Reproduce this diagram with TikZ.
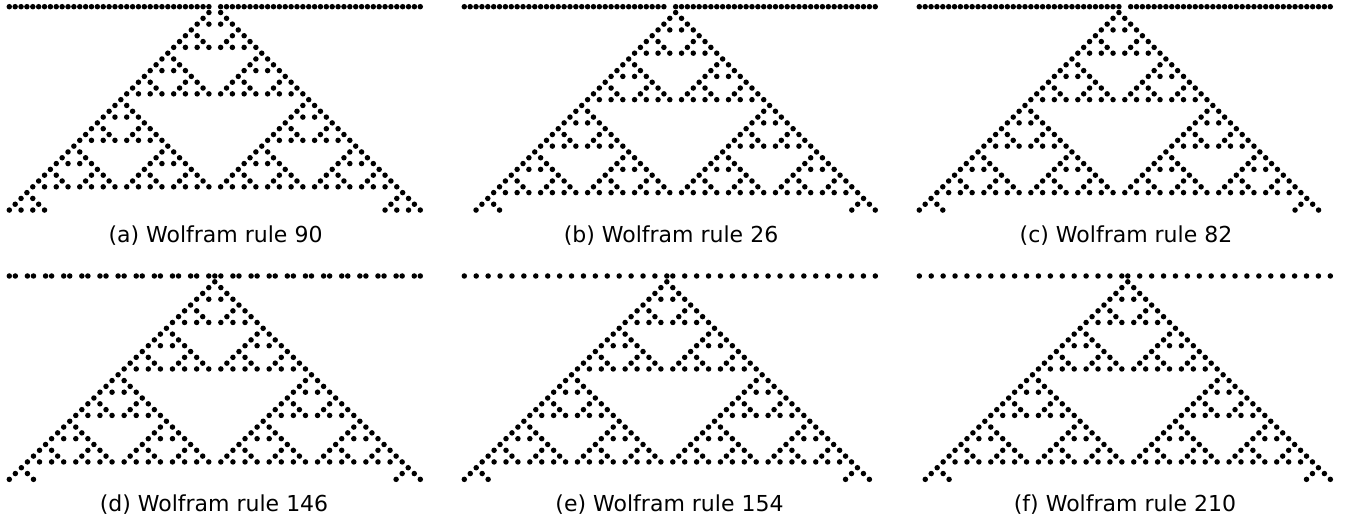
\documentclass[tikz,border=0pt]{standalone}
\usepackage{fontspec}
\setmainfont{DejaVu Sans}
\makeatletter
\newcount\CA@i \newcount\CA@t \newcount\CA@n \newcount\CA@k \newcount\CA@b \newcount\CA@p
\def\CAN{71}
\def\CAT{36}
\def\CA@setinit#1{\CA@i=0 \CA@initloop#1\relax}
\def\CA@initloop#1{%
  \ifx#1\relax\else
    \expandafter\xdef\csname CA@0@\the\CA@i\endcsname{#1}%
    \advance\CA@i by 1
    \expandafter\CA@initloop
  \fi}
\def\CA@rowloop{%
  \ifnum\CA@i<\CAN\relax
    \CA@n=\CA@i \advance\CA@n by -1
    \CA@k=\csname CA@\the\CA@p @\the\CA@n\endcsname\relax
    \multiply\CA@k by 2
    \advance\CA@k by \csname CA@\the\CA@p @\the\CA@i\endcsname\relax
    \multiply\CA@k by 2
    \CA@n=\CA@i \advance\CA@n by 1
    \advance\CA@k by \csname CA@\the\CA@p @\the\CA@n\endcsname\relax
    \CA@b=\CA@rule\relax
    \CA@n=\ifcase\CA@k 1\or 2\or 4\or 8\or 16\or 32\or 64\or 128\fi\relax
    \divide\CA@b by \CA@n
    \ifodd\CA@b
      \expandafter\xdef\csname CA@\the\CA@t @\the\CA@i\endcsname{1}%
    \else
      \expandafter\xdef\csname CA@\the\CA@t @\the\CA@i\endcsname{0}%
    \fi
    \advance\CA@i by 1
    \expandafter\CA@rowloop
  \fi}
% ghost cells outside the row: background value in row 0, empty afterwards
\def\CA@rows{%
  \ifnum\CA@t<\CAT\relax
    \CA@p=\CA@t \advance\CA@p by -1
    \CA@i=0 \CA@rowloop
    \expandafter\xdef\csname CA@\the\CA@t @-1\endcsname{0}%
    \expandafter\xdef\csname CA@\the\CA@t @\CAN\endcsname{0}%
    \advance\CA@t by 1
    \expandafter\CA@rows
  \fi}
% #1 rule, #2 initial row, #3 left ghost, #4 right ghost
\newcommand\CAcompute[4]{\def\CA@rule{#1}\expandafter\CA@setinit\expandafter{#2}%
  \expandafter\xdef\csname CA@0@-1\endcsname{#3}%
  \expandafter\xdef\csname CA@0@\CAN\endcsname{#4}%
  \CA@t=1 \CA@rows}
% #1 x of cell #3, #2 y of row 0, #3 first plotted cell, #4 cell spacing
\newcommand\CAdraw[4]{%
  \foreach \ry in {0,...,35}{%
    \foreach \cx in {0,...,70}{%
      \if1\csname CA@\ry @\cx\endcsname
        \fill[cadot] ({#1+(\cx-#3)*#4},{#2+\ry*\CAdy}) circle[radius=\CAr];
      \fi}}}
\makeatother
% building the initial rows
\newcommand\InitClear{\gdef\CAinit{}}
\newcommand\InitAdd[2]{\foreach \k in {1,...,#1}{\xdef\CAinit{\CAinit#2}}}
\def\CAdy{5.81}
\def\CAr{2.75}
\begin{document}
\begin{tikzpicture}[x=1pt,y=-1pt,
  cadot/.style={fill=black},
  caption/.style={font=\fontsize{22}{26}\selectfont, inner sep=0pt, anchor=center}]
\path[use as bounding box] (0,0) rectangle (1349,518);
% (a)-(c): all cells on except the centre one
\InitClear\InitAdd{35}{1}\InitAdd{1}{0}\InitAdd{35}{1}
\CAcompute{90}{\CAinit}{1}{1}\CAdraw{9.3}{6.7}{0}{5.871}
\CAcompute{26}{\CAinit}{1}{1}\CAdraw{464.3}{6.7}{0}{5.871}
\CAcompute{82}{\CAinit}{1}{1}\CAdraw{919.3}{6.7}{0}{5.871}
% (d): background 110 with a 111 defect
\InitClear\InitAdd{1}{0}\InitAdd{11}{110}\InitAdd{1}{1110}\InitAdd{11}{110}
\CAcompute{146}{\CAinit}{1}{1}\CAdraw{9.3}{276}{1}{6.044}
% (e),(f): background 10 with a 11 defect
\InitClear\InitAdd{17}{10}\InitAdd{1}{11}\InitAdd{17}{01}\InitAdd{1}{0}
\CAcompute{154}{\CAinit}{0}{1}\CAdraw{464.3}{276}{0}{5.957}
\CAcompute{210}{\CAinit}{0}{1}\CAdraw{919.3}{276}{0}{5.957}
\node[caption] (capA) at (215.5,236) {(a) Wolfram rule 90};
\node[caption] (capB) at (671,236) {(b) Wolfram rule 26};
\node[caption] (capC) at (1126,236) {(c) Wolfram rule 82};
\node[caption] (capD) at (214,505) {(d) Wolfram rule 146};
\node[caption] (capE) at (669.5,505) {(e) Wolfram rule 154};
\node[caption] (capF) at (1125,505) {(f) Wolfram rule 210};
\end{tikzpicture}
\end{document}
